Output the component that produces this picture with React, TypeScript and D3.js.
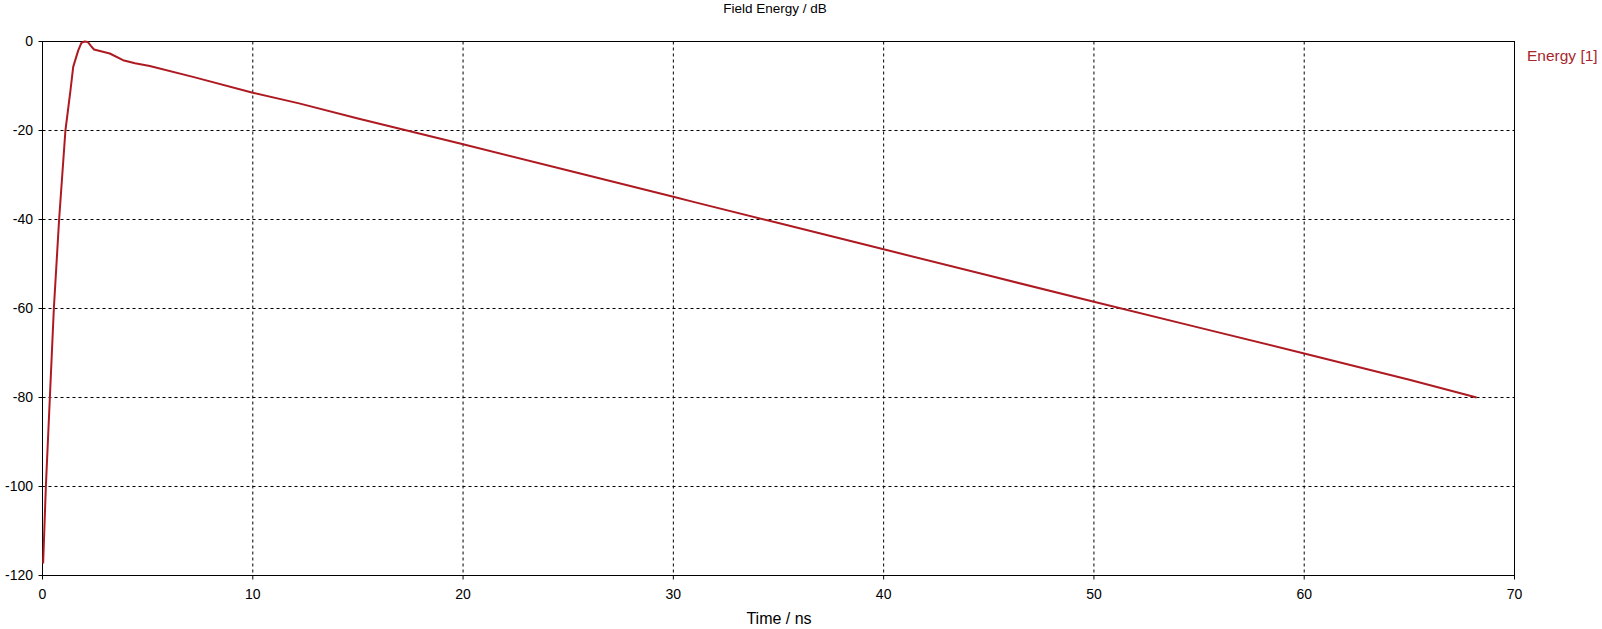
import React from "react";
import * as d3 from "d3";

const timeNs = [0.03, 0.16, 0.35, 0.54, 0.79, 1.09, 1.33, 1.46, 1.7, 1.85, 2.0, 2.15, 2.3, 2.45, 3.2, 3.83, 4.4, 5.1, 7.2, 10, 12.2, 15, 20, 25, 30, 31, 35, 40, 45, 50, 55, 60, 65, 68.2];
const energyDb = [-117.3, -100, -80, -60, -40, -20, -11, -5.7, -2, -0.3, 0, -0.1, -1.0, -1.8, -2.7, -4.2, -4.9, -5.5, -8.0, -11.5, -13.9, -17.3, -23.1, -29.0, -34.9, -36.1, -40.8, -46.7, -52.6, -58.5, -64.3, -70.1, -76.0, -80.0];
const xTicks = [0, 10, 20, 30, 40, 50, 60, 70];
const yTicks = [0, -20, -40, -60, -80, -100, -120];

const W = 1602;
const H = 629;
const M = { left: 42.5, right: 1514.5, top: 41.5, bottom: 575.5 };
const FONT = "'Liberation Sans', Arial, sans-serif";

export default function App() {
  const x = d3.scaleLinear().domain([0, 70]).range([M.left, M.right]);
  const y = d3.scaleLinear().domain([-120, 0]).range([M.bottom, M.top]);
  const line = d3
    .line<number>()
    .x((_, i) => x(timeNs[i]))
    .y((d) => y(d))
    .curve(d3.curveLinear);
  const path = line(energyDb) || "";

  return (
    <div style={{ position: "absolute", left: 0, top: 0, width: W, height: H, background: "#fff" }}>
      <svg width={W} height={H} style={{ display: "block" }} fontFamily={FONT}>
        <rect x={0} y={0} width={W} height={H} fill="#fff" />
        {/* grid */}
        {xTicks.filter((t) => t !== 0 && t !== 70).map((t) => (
          <line key={"gx" + t} x1={x(t)} x2={x(t)} y1={M.top} y2={M.bottom} stroke="#000" strokeWidth={1} strokeDasharray="3,3" />
        ))}
        {yTicks.filter((t) => t !== 0 && t !== -120).map((t) => (
          <line key={"gy" + t} x1={M.left} x2={M.right} y1={y(t)} y2={y(t)} stroke="#000" strokeWidth={1} strokeDasharray="3,3" />
        ))}
        {/* frame */}
        <rect x={M.left} y={M.top} width={M.right - M.left} height={M.bottom - M.top} fill="none" stroke="#000" strokeWidth={1} />
        {/* ticks */}
        {yTicks.map((t) => (
          <g key={"ty" + t}>
            <line x1={M.left - 4} x2={M.left} y1={y(t)} y2={y(t)} stroke="#000" />
            <text x={33} y={y(t)} dy="0.35em" textAnchor="end" fontSize={14} fill="#000">
              {String(t)}
            </text>
          </g>
        ))}
        {xTicks.map((t) => (
          <g key={"tx" + t}>
            <line x1={x(t)} x2={x(t)} y1={M.bottom} y2={M.bottom + 4} stroke="#000" />
            <text x={x(t)} y={599} textAnchor="middle" fontSize={14} fill="#000">
              {String(t)}
            </text>
          </g>
        ))}
        {/* data */}
        <path d={path} fill="none" stroke="#ad1a22" strokeWidth={2} strokeLinejoin="round" />
        {/* labels */}
        <text x={775} y={13} textAnchor="middle" fontSize={13.5} fill="#000">Field Energy / dB</text>
        <text x={779} y={624} textAnchor="middle" fontSize={16} fill="#000">Time / ns</text>
        <text x={1527} y={61} fontSize={15.5} fill="#a8262c">Energy [1]</text>
      </svg>
    </div>
  );
}
